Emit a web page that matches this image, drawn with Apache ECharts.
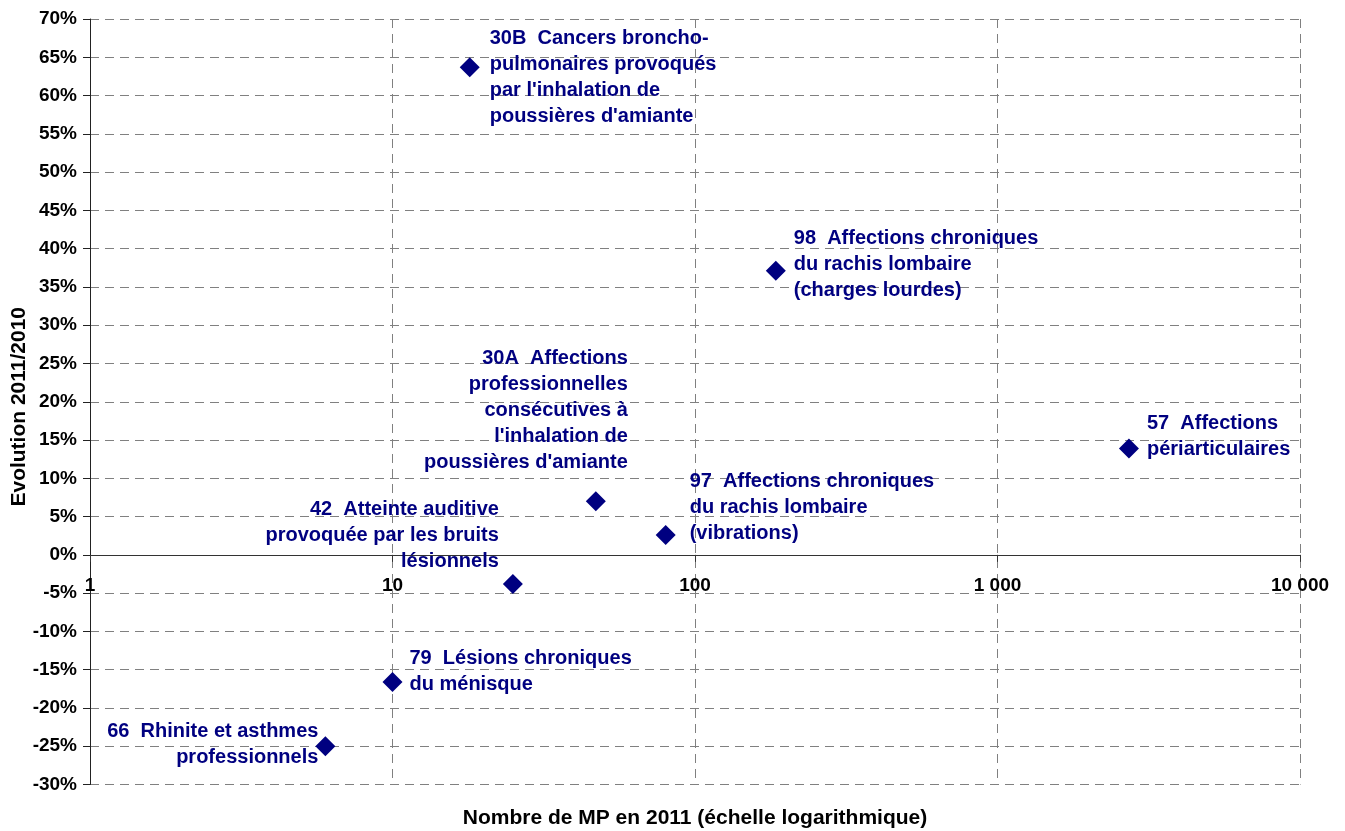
<!DOCTYPE html>
<html>
<head>
<meta charset="utf-8">
<script src="https://cdn.jsdelivr.net/npm/echarts@6/dist/echarts.min.js"></script>
<style>
  html, body { margin: 0; padding: 0; background: #fff; }
  #main { width: 1345px; height: 831px; }
</style>
</head>
<body>
<div id="main"></div>
<script>
// données
var names = [
    "30B  Cancers broncho-\npulmonaires provoqués\npar l'inhalation de\npoussières d'amiante",
    "98  Affections chroniques\ndu rachis lombaire\n(charges lourdes)",
    "57  Affections\npériarticulaires",
    "30A  Affections\nprofessionnelles\nconsécutives à\nl'inhalation de\npoussières d'amiante",
    "97  Affections chroniques\ndu rachis lombaire\n(vibrations)",
    "42  Atteinte auditive\nprovoquée par les bruits\nlésionnels",
    "79  Lésions chroniques\ndu ménisque",
    "66  Rhinite et asthmes\nprofessionnels"
];
var nbMP = [18, 185, 2720, 47, 80, 25, 10, 6];
var evolution = [63.7, 37.1, 13.9, 7.0, 2.6, -3.8, -16.6, -25.0];
var xTicks = [1, 10, 100, 1000, 10000];
var yMin = -30, yMax = 70, yStep = 5;

// placement des étiquettes
var labelPos = [
    {position: 'right', distance: 10, offset: [0, 10]},
    {position: 'right', distance: 8, offset: [0, -6]},
    {position: 'right', distance: 8, offset: [0, -12]},
    {position: 'top', distance: 16, align: 'right', offset: [32, 0]},
    {position: 'right', distance: 14, offset: [0, -27]},
    {position: 'left', distance: 4, offset: [0, -48]},
    {position: 'right', distance: 7, offset: [0, -10]},
    {position: 'left', distance: 0, offset: [3, -2]}
];

var font = 'Liberation Sans, Arial, sans-serif';
var navy = '#000080';
var gridTop = 19, gridBottom = 46.5, chartH = 831;

var points = [];
for (var i = 0; i < names.length; i++) {
    var lp = labelPos[i];
    var lab = {
        show: true,
        formatter: names[i],
        position: lp.position,
        distance: lp.distance,
        offset: lp.offset,
        color: navy,
        opacity: 1,
        fontFamily: font,
        fontWeight: 'bold',
        fontSize: 20,
        lineHeight: 26
    };
    if (lp.align) { lab.align = lp.align; }
    points.push({value: [nbMP[i], evolution[i]], label: lab});
}

function fmtThousands(v) {
    return String(Math.round(v)).replace(/\B(?=(\d{3})+(?!\d))/g, ' ');
}

// l'axe des x passe par 0 % : on le remonte depuis le bas de la grille
var plotH = chartH - gridTop - gridBottom;
var xAxisShift = -(0 - yMin) / (yMax - yMin) * plotH;

var myChart = echarts.init(document.getElementById('main'));
var option = {
    animation: false,
    backgroundColor: '#fff',
    grid: {left: 90, right: 45, top: gridTop, bottom: gridBottom, containLabel: false, outerBoundsMode: 'none'},
    xAxis: {
        type: 'log',
        logBase: 10,
        min: xTicks[0],
        max: xTicks[xTicks.length - 1],
        offset: xAxisShift,
        name: 'Nombre de MP en 2011 (échelle logarithmique)',
        nameLocation: 'middle',
        nameGap: 253,
        nameMoveOverlap: false,
        nameTextStyle: {color: '#000', fontFamily: font, fontWeight: 'bold', fontSize: 21},
        axisLine: {onZero: false, lineStyle: {color: '#333', width: 1}},
        axisTick: {show: true, inside: false, length: 7, lineStyle: {color: '#333'}},
        minorTick: {show: false},
        axisLabel: {
            margin: 21,
            color: '#000',
            fontFamily: font,
            fontWeight: 'bold',
            fontSize: 19,
            formatter: fmtThousands
        },
        splitLine: {show: true, lineStyle: {color: '#808080', type: [9, 6], width: 1}}
    },
    yAxis: {
        type: 'value',
        min: yMin,
        max: yMax,
        interval: yStep,
        name: 'Evolution 2011/2010',
        nameLocation: 'middle',
        nameGap: 60,
        nameRotate: 90,
        nameMoveOverlap: false,
        nameTextStyle: {color: '#000', fontFamily: font, fontWeight: 'bold', fontSize: 21, padding: [0, 10, 0, 0]},
        axisLine: {show: true, onZero: false, lineStyle: {color: '#222', width: 1}},
        axisTick: {show: true, inside: false, length: 7, lineStyle: {color: '#222'}},
        axisLabel: {
            margin: 13,
            color: '#000',
            fontFamily: font,
            fontWeight: 'bold',
            fontSize: 19,
            formatter: '{value}%'
        },
        splitLine: {show: true, lineStyle: {color: '#808080', type: [9, 6], width: 1}}
    },
    series: [{
        type: 'scatter',
        symbol: 'diamond',
        symbolSize: 20,
        itemStyle: {color: navy, opacity: 1},
        emphasis: {disabled: true},
        data: points
    }]
};
myChart.setOption(option);
</script>
</body>
</html>
